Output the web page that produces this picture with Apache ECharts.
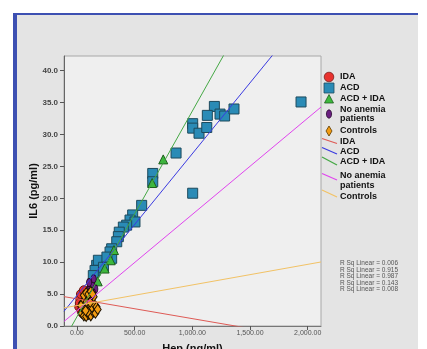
<!DOCTYPE html>
<html>
<head>
<meta charset="utf-8">
<script src="https://cdn.jsdelivr.net/npm/echarts@6/dist/echarts.min.js"></script>
<style>
  html, body { margin: 0; padding: 0; background: #fff; }
  #chart { width: 427px; height: 349px; }
</style>
</head>
<body>
<div id="chart"></div>
<script>
// scatter points, [hep, il6]
const idaPts = [[20, 3.0], [30, 4.2], [40, 2.4], [55, 3.5], [70, 4.5], [85, 3.1], [35, 5.0], [60, 5.6],
  [100, 3.9], [50, 2.0], [75, 1.8], [25, 3.6]];
const acdPts = [[1942, 35.1], [1191, 34.4], [1130, 33.0], [1240, 33.2], [1280, 32.9], [1361, 34.0],
  [1003, 31.7], [1003, 31.0], [1058, 30.2], [1125, 31.1], [859, 27.1], [657, 23.9], [657, 22.6],
  [1003, 20.8], [561, 18.9], [483, 17.4], [460, 16.6], [503, 16.3], [431, 15.8], [402, 15.5],
  [367, 14.7], [359, 14.0], [345, 13.2], [301, 12.1], [287, 11.6], [301, 10.6], [200, 10.0],
  [171, 9.5], [186, 10.3], [157, 8.7], [142, 7.9], [230, 9.2], [260, 10.8]];
const acdIdaPts = [[652, 22.4], [748, 26.1], [321, 11.9], [293, 10.3], [240, 9.0], [180, 7.0],
  [130, 5.2], [100, 3.5]];
const noAnemiaPts = [[100, 5.6], [115, 6.1], [130, 6.6], [145, 7.4], [90, 5.0], [120, 4.8],
  [160, 5.8], [75, 4.2], [140, 5.2], [105, 6.8]];
const controlPts = [[40, 2.0], [60, 1.6], [80, 1.5], [100, 1.8], [120, 1.6], [140, 2.2], [160, 2.0],
  [50, 2.8], [70, 3.0], [90, 2.6], [110, 3.2], [130, 2.9], [150, 3.4], [170, 3.0], [45, 3.6],
  [65, 4.0], [85, 3.8], [105, 4.4], [125, 4.1], [145, 4.6], [60, 4.8], [80, 5.2], [100, 5.0],
  [120, 5.4], [35, 3.2], [180, 2.6], [95, 2.2], [75, 2.4], [115, 3.7], [135, 5.0]];

// fit line end points across the x range
const fitIda = [[-112, 4.6], [2115, -2.3]];
const fitAcd = [[-112, 2.31], [2115, 51.75]];
const fitAcdIda = [[-112, -2.16], [2115, 69.6]];
const fitNoAnemia = [[-112, 0.71], [2115, 34.3]];
const fitControls = [[-112, 2.84], [2115, 10.03]];

const xTicks = [0, 500, 1000, 1500, 2000];
const yTicks = [0, 5, 10, 15, 20, 25, 30, 35, 40];
const rSqLabels = ['R Sq Linear = 0.006', 'R Sq Linear = 0.915', 'R Sq Linear = 0.987',
  'R Sq Linear = 0.143', 'R Sq Linear = 0.008'];

const C = {
  ida: '#e8322e', acd: '#2a8bb6', acdIda: '#3cb93c', noAn: '#6a1f80', ctrl: '#f39c12',
  lIda: '#de5a55', lAcd: '#3a3ae0', lAcdIda: '#45a845', lNoAn: '#e044ee', lCtrl: '#f2c265'
};

const chart = echarts.init(document.getElementById('chart'), null, { renderer: 'canvas' });

const pointSeries = (data, symbol, size, color, border) => ({
  type: 'scatter', data, symbol, symbolSize: size, z: 3,
  itemStyle: { color, borderColor: border, borderWidth: 1, opacity: 1 }
});
const fitSeries = (data, color) => ({
  type: 'line', data, symbol: 'none', z: 5, silent: true,
  lineStyle: { color, width: 1 }
});

// legend drawn by hand (names repeat between markers and lines)
const legendFont = 'bold 9px "Liberation Sans", Arial, sans-serif';
const txt = (x, y, t) => ({ type: 'text', x, y, style: { text: t, font: legendFont, fill: '#111', textVerticalAlign: 'middle' } });
const seg = (y1, y2, color) => ({ type: 'line', shape: { x1: 322, y1, x2: 337, y2 }, style: { stroke: color, lineWidth: 1.2 } });

const graphics = [
  { type: 'rect', z: -10, shape: { x: 16, y: 15, width: 402, height: 334 }, style: { fill: '#e4e4e4' } },
  { type: 'rect', z: -9, shape: { x: 13, y: 13, width: 405, height: 2 }, style: { fill: '#3d50b2' } },
  { type: 'rect', z: -9, shape: { x: 13, y: 13, width: 4, height: 336 }, style: { fill: '#3d50b2' } },
  { type: 'circle', shape: { cx: 329, cy: 77, r: 4.8 }, style: { fill: C.ida, stroke: '#7a2020', lineWidth: 0.8 } },
  { type: 'rect', shape: { x: 324, y: 83, width: 10, height: 10 }, style: { fill: C.acd, stroke: '#1e4c60', lineWidth: 0.8 } },
  { type: 'polygon', shape: { points: [[329, 94.5], [333.5, 103], [324.5, 103]] }, style: { fill: C.acdIda, stroke: '#1e5e1e', lineWidth: 0.8 } },
  { type: 'ellipse', shape: { cx: 329, cy: 114, rx: 2.6, ry: 4.2 }, style: { fill: C.noAn, stroke: '#2a0a30', lineWidth: 0.8 } },
  { type: 'polygon', shape: { points: [[329, 126], [332, 131], [329, 136], [326, 131]] }, style: { fill: C.ctrl, stroke: '#5a3a00', lineWidth: 0.8 } },
  txt(340, 77, 'IDA'), txt(340, 88, 'ACD'), txt(340, 99, 'ACD + IDA'),
  txt(340, 110, 'No anemia'), txt(340, 119, 'patients'), txt(340, 131, 'Controls'),
  seg(138.5, 143.5, C.lIda), seg(147.5, 154, C.lAcd), seg(157, 165, C.lAcdIda),
  seg(173.5, 180, C.lNoAn), seg(190, 197, C.lCtrl),
  txt(340, 141.5, 'IDA'), txt(340, 151.5, 'ACD'), txt(340, 162, 'ACD + IDA'),
  txt(340, 176, 'No anemia'), txt(340, 185.5, 'patients'), txt(340, 196.5, 'Controls')
];
rSqLabels.forEach((t, i) => {
  graphics.push({
    type: 'text', x: 369, y: 263.5 + i * 6.5,
    style: { text: t, font: '6.5px "Liberation Sans", Arial, sans-serif', fill: '#555', textAlign: 'center', textVerticalAlign: 'middle' }
  });
});

chart.setOption({
  backgroundColor: '#ffffff',
  animation: false,
  grid: {
    left: 64, right: 106, top: 56, bottom: 23,
    outerBoundsMode: 'none', containLabel: false,
    show: true, backgroundColor: '#efefef', borderColor: '#a8a8a8', borderWidth: 1
  },
  xAxis: {
    type: 'value', min: -112, max: 2115,
    name: 'Hep (ng/ml)', nameLocation: 'middle', nameGap: 17, nameMoveOverlap: false,
    nameTextStyle: { fontFamily: 'Liberation Sans', fontWeight: 'bold', fontSize: 11, color: '#111', verticalAlign: 'top' },
    axisLine: { onZero: false, lineStyle: { color: '#777' } },
    axisTick: { show: true, length: 4, customValues: xTicks, lineStyle: { color: '#555' } },
    axisLabel: {
      customValues: xTicks, margin: 4, fontSize: 7, color: '#555', fontFamily: 'Liberation Sans',
      formatter: v => Number(v).toLocaleString('en-US', { minimumFractionDigits: 2, maximumFractionDigits: 2 })
    },
    splitLine: { show: false }
  },
  yAxis: {
    type: 'value', min: 0, max: 42.3,
    name: 'IL6 (pg/ml)', nameLocation: 'middle', nameGap: 25, nameRotate: 90, nameMoveOverlap: false,
    nameTextStyle: { fontFamily: 'Liberation Sans', fontWeight: 'bold', fontSize: 11, color: '#111' },
    axisLine: { onZero: false, lineStyle: { color: '#666' } },
    axisTick: { show: true, length: 4, customValues: yTicks, lineStyle: { color: '#555' } },
    axisLabel: {
      customValues: yTicks, margin: 6, fontSize: 8, fontWeight: 'bold', color: '#444', fontFamily: 'Liberation Sans',
      formatter: v => Number(v).toFixed(1)
    },
    splitLine: { show: false }
  },
  series: [
    pointSeries(idaPts, 'circle', 9, C.ida, '#6a1a1a'),
    pointSeries(acdPts, 'rect', 10, C.acd, '#1d4a5c'),
    pointSeries(acdIdaPts, 'triangle', 9, C.acdIda, '#1e5e1e'),
    pointSeries(noAnemiaPts, 'circle', [5, 8], C.noAn, '#250828'),
    pointSeries(controlPts, 'diamond', [7, 10], C.ctrl, '#1a1000'),
    fitSeries(fitIda, C.lIda),
    fitSeries(fitAcd, C.lAcd),
    fitSeries(fitAcdIda, C.lAcdIda),
    fitSeries(fitNoAnemia, C.lNoAn),
    fitSeries(fitControls, C.lCtrl)
  ],
  graphic: graphics
});
</script>
</body>
</html>
